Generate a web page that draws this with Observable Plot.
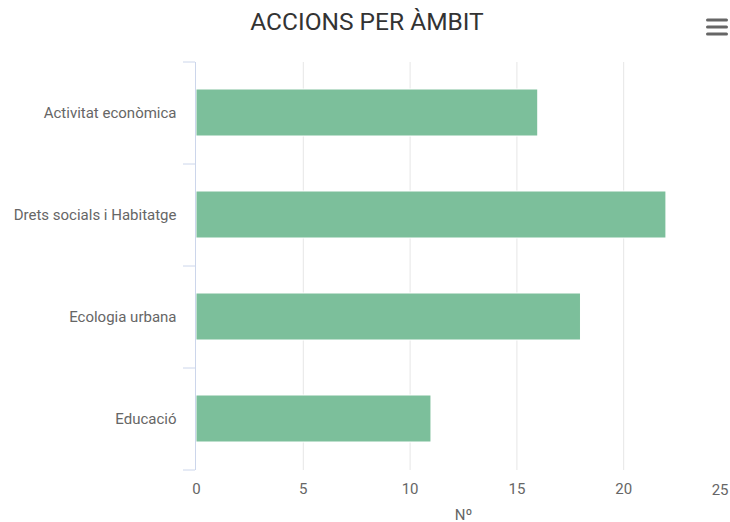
<!DOCTYPE html>
<html>
<head>
<meta charset="utf-8">
<script src="https://cdn.jsdelivr.net/npm/d3@7"></script>
<script src="https://cdn.jsdelivr.net/npm/@observablehq/plot@0.6"></script>
<style>
  html, body { margin: 0; padding: 0; background: #fff; }
  #wrap { position: relative; width: 730px; height: 522px; font-family: Roboto, "Noto Sans", sans-serif; }
  #title { height: 44px; line-height: 44px; text-align: center; font-size: 24.5px; color: #333; padding-left: 4px; }
  #menu { position: absolute; left: 705px; top: 16px; }
  svg { display: block; }
</style>
</head>
<body>
<div id="wrap">
  <div id="title">ACCIONS PER ÀMBIT</div>
  <svg id="menu" width="24" height="22" viewBox="0 0 24 22">
    <g stroke="#666" stroke-width="3" stroke-linecap="round">
      <line x1="2.5" y1="4" x2="21.5" y2="4"/>
      <line x1="2.5" y1="11" x2="21.5" y2="11"/>
      <line x1="2.5" y1="18" x2="21.5" y2="18"/>
    </g>
  </svg>
  <div id="chart"></div>
</div>
<script>
const categories = ["Activitat econòmica", "Drets socials i Habitatge", "Ecologia urbana", "Educació"];
const values = [16, 22, 18, 11];
const xTicks = [0, 5, 10, 15, 20, 25];
const xLabel = "Nº";

const data = categories.map((c, i) => ({ category: c, value: values[i] }));

const W = 730, H = 478;
const mTop = 18, mBottom = 52, mLeft = 196, mRight = 0;
const step = (H - mTop - mBottom) / categories.length;

const chart = Plot.plot({
  width: W,
  height: H,
  marginTop: mTop,
  marginBottom: mBottom,
  marginLeft: mLeft,
  marginRight: mRight,
  style: { fontFamily: "Roboto, 'Noto Sans', sans-serif", fontSize: "15px", color: "#666", background: "#fff" },
  x: { domain: [0, 25] },
  y: { domain: categories, paddingInner: 0.535, paddingOuter: 0.2675 },
  marks: [
    Plot.ruleX(xTicks.filter(d => d > 0), { stroke: "#e6e6e6", strokeWidth: 1 }),
    Plot.barX(data, { x: "value", y: "category", fill: "#7cbf9b", stroke: "#fff", strokeWidth: 1 }),
    Plot.ruleX([0], { stroke: "#ccd6eb", strokeWidth: 1, dx: -1 }),
    // category labels
    Plot.axisY({ tickSize: 0, tickPadding: 20, fill: "#666", fontSize: 15, label: null }),
    // tick marks at band boundaries
    Plot.axisY({ tickSize: 12, tickFormat: null, stroke: "#ccd6eb", dy: -step / 2, dx: -1, label: null }),
    Plot.axisY({ ticks: [categories[categories.length - 1]], tickSize: 12, tickFormat: null, stroke: "#ccd6eb", dy: step / 2, dx: -1, label: null }),
    // x tick labels
    Plot.axisX({ ticks: xTicks.slice(0, -1), tickSize: 0, tickPadding: 13, fill: "#666", fontSize: 15, label: null }),
    Plot.text(xTicks.slice(-1), { x: d => d, frameAnchor: "bottom", dy: 24, textAnchor: "end", dx: -2, fill: "#666", fontSize: 15, text: d => String(d) }),
    Plot.text([xLabel], { frameAnchor: "bottom", dy: 49, fill: "#666", fontSize: 15, text: d => d })
  ]
});
document.getElementById("chart").appendChild(chart);
</script>
</body>
</html>
